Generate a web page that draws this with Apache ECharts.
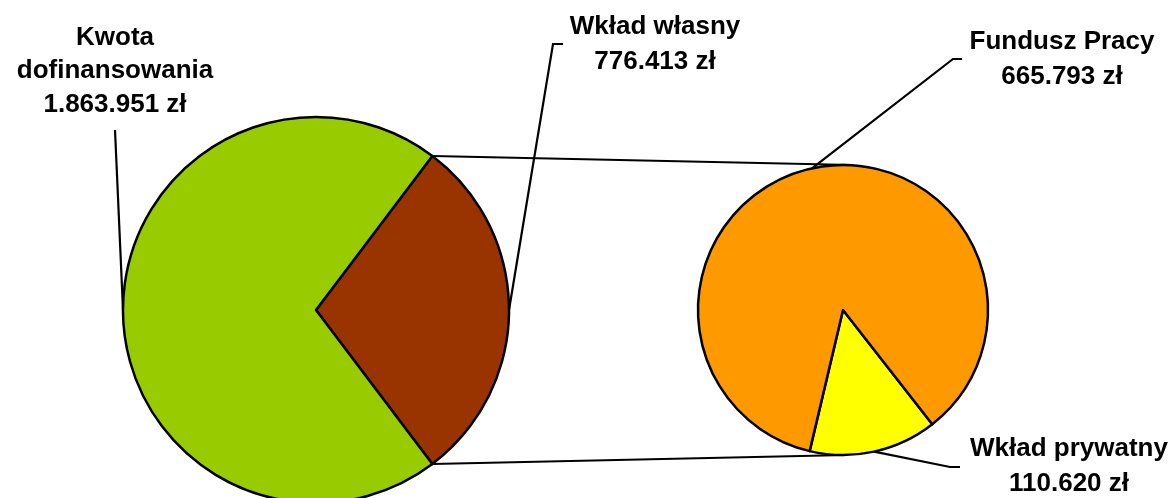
<!DOCTYPE html>
<html>
<head>
<meta charset="utf-8">
<script src="https://cdn.jsdelivr.net/npm/echarts@6/dist/echarts.min.js"></script>
<style>
  html, body { margin: 0; padding: 0; background: #fff; }
  #chart { width: 1175px; height: 498px; }
</style>
</head>
<body>
<div id="chart"></div>
<script>
// main pie: own contribution vs co-financing
const mainNames = ['Wkład własny', 'Kwota dofinansowania'];
const mainValues = [776413, 1863951];
const mainLabels = ['Wkład własny\n776.413 zł', 'Kwota\ndofinansowania\n1.863.951 zł'];
// split of own contribution
const splitNames = ['Wkład prywatny', 'Fundusz Pracy'];
const splitValues = [110620, 665793];
const splitLabels = ['Wkład prywatny\n110.620 zł', 'Fundusz Pracy\n665.793 zł'];

const leftPie = { cx: 316, cy: 310, r: 193 };
const rightPie = { cx: 843, cy: 310, r: 145 };

const sum = arr => arr.reduce((a, b) => a + b, 0);
const mainStart = mainValues[0] / sum(mainValues) * 180;
const splitStart = -52;

// middle angle of each slice (math degrees), slices go clockwise
function midAngles (values, start) {
  const total = sum(values);
  let a = start;
  return values.map(v => {
    const span = v / total * 360;
    const mid = a - span / 2;
    a -= span;
    return mid;
  });
}
function edge (pie, deg) {
  const rad = deg * Math.PI / 180;
  return [pie.cx + pie.r * Math.cos(rad), pie.cy - pie.r * Math.sin(rad)];
}

const mids = [midAngles(mainValues, mainStart), midAngles(splitValues, splitStart)];
const pies = [leftPie, rightPie];

// label boxes and leader line bends
const labelPos = {
  '0-0': { x: 655, y: 9.5, lh: 35, line: [[553, 44], [563, 44]] },
  '0-1': { x: 115, y: 21, lh: 33.5, line: [[115, 130]] },
  '1-0': { x: 1069, y: 431.5, lh: 35, line: [[950, 467], [960, 467]] },
  '1-1': { x: 1062, y: 24.5, lh: 35, line: [[953, 59], [962, 59]] }
};

const labelStyle = {
  show: true,
  position: 'outside',
  color: '#000',
  fontFamily: 'Liberation Sans, Arial, sans-serif',
  fontWeight: 'bold',
  fontSize: 26,
  align: 'center'
};

function layoutFor (params) {
  const p = labelPos[params.seriesIndex + '-' + params.dataIndex];
  const start = edge(pies[params.seriesIndex], mids[params.seriesIndex][params.dataIndex]);
  return {
    x: p.x,
    y: p.y,
    align: 'center',
    verticalAlign: 'top',
    labelLinePoints: [start].concat(p.line)
  };
}

// connector lines between the two pies
const topA = edge(leftPie, mainStart);
const botA = edge(leftPie, -mainStart);
const connectors = [
  { type: 'line', shape: { x1: topA[0], y1: topA[1], x2: rightPie.cx + 10, y2: rightPie.cy - rightPie.r }, style: { stroke: '#000', lineWidth: 2.2 }, z: 1 },
  { type: 'line', shape: { x1: botA[0], y1: botA[1], x2: rightPie.cx + 4, y2: rightPie.cy + rightPie.r }, style: { stroke: '#000', lineWidth: 2.2 }, z: 1 }
];

function pieData (names, values, labels, colors, seriesIndex) {
  return names.map((n, i) => ({
    name: n,
    value: values[i],
    itemStyle: { color: colors[i] },
    label: { lineHeight: labelPos[seriesIndex + '-' + i].lh, formatter: labels[i] }
  }));
}

const chart = echarts.init(document.getElementById('chart'), null, { renderer: 'canvas' });

chart.setOption({
  animation: false,
  backgroundColor: '#fff',
  graphic: connectors,
  series: [
    {
      type: 'pie',
      center: [leftPie.cx, leftPie.cy],
      radius: leftPie.r,
      startAngle: mainStart,
      clockwise: true,
      avoidLabelOverlap: false,
      itemStyle: { borderColor: '#000', borderWidth: 2.5 },
      label: labelStyle,
      labelLine: { show: true, length: 10, length2: 10, lineStyle: { color: '#000', width: 2.2 } },
      labelLayout: layoutFor,
      emphasis: { disabled: true },
      data: pieData(mainNames, mainValues, mainLabels, ['#993300', '#99CC00'], 0)
    },
    {
      type: 'pie',
      center: [rightPie.cx, rightPie.cy],
      radius: rightPie.r,
      startAngle: splitStart,
      clockwise: true,
      avoidLabelOverlap: false,
      itemStyle: { borderColor: '#000', borderWidth: 2.5 },
      label: labelStyle,
      labelLine: { show: true, length: 10, length2: 10, lineStyle: { color: '#000', width: 2.2 } },
      labelLayout: layoutFor,
      emphasis: { disabled: true },
      data: pieData(splitNames, splitValues, splitLabels, ['#FFFF00', '#FF9900'], 1)
    }
  ]
});
</script>
</body>
</html>
